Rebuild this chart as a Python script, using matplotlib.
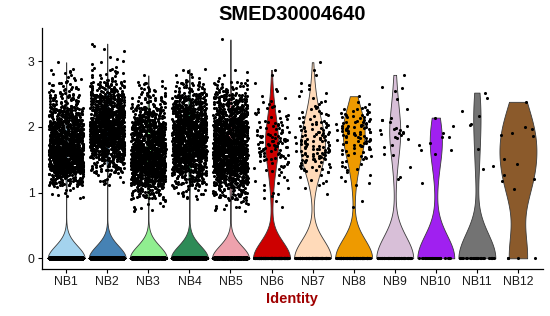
import numpy as np
import matplotlib
matplotlib.use('Agg')
import matplotlib.pyplot as plt

# clusters and violin colours
clusters = ['NB1', 'NB2', 'NB3', 'NB4', 'NB5', 'NB6',
            'NB7', 'NB8', 'NB9', 'NB10', 'NB11', 'NB12']
colors = ['#A4D3EE', '#4682B4', '#90EE90', '#2E8B57', '#EEA2AD', '#CD0000',
          '#FFDAB9', '#EE9A00', '#D8BFD8', '#A020F0', '#737373', '#8B5A2B']

# number of cells with zero expression per cluster
n_zero = [7800, 6200, 4200, 4500, 3900, 200, 130, 125, 70, 28, 30, 4]

# binned counts of non-zero expression (read off the point clouds)
bin_edges = [0.7, 0.9, 1.1, 1.3, 1.5, 1.7, 1.9, 2.1, 2.3, 2.5, 2.7, 2.9,
             3.1, 3.3, 3.5]
nb1_counts = [0, 10, 80, 260, 290, 210, 170, 115, 55, 25, 11, 1, 0, 0]
nb2_counts = [0, 0, 13, 52, 155, 260, 260, 195, 130, 62, 18, 6, 4, 0]
nb3_counts = [10, 52, 155, 260, 260, 195, 143, 78, 38, 18, 1, 0, 0, 0]
nb4_counts = [0, 19, 65, 143, 220, 235, 220, 143, 90, 36, 9, 0, 0, 0]
nb5_counts = [14, 52, 130, 235, 260, 235, 195, 130, 75, 30, 5, 0, 0, 0]
nb5_extra = [3.33]
nb6_counts = [2, 6, 6, 14, 25, 30, 20, 12, 6, 3, 2, 0, 0, 0]
nb7_counts = [0, 2, 6, 20, 35, 30, 22, 12, 6, 5, 2, 1, 0, 0]
nb8_counts = [2, 0, 5, 8, 15, 25, 30, 20, 3, 0, 0, 0, 0, 0]

# small clusters: individual non-zero values
nb9_values = [2.79, 2.60, 2.59, 2.55, 2.43, 2.27, 2.14, 2.11, 2.10, 2.08,
              2.01, 1.98, 1.96, 1.95, 1.95, 1.92, 1.90, 1.90, 1.89, 1.88,
              1.85, 1.83, 1.82, 1.72, 1.69, 1.58, 1.57, 1.39, 1.23, 1.20]
nb10_values = [2.14, 2.01, 1.90, 1.85, 1.84, 1.76, 1.72, 1.65, 1.64, 1.59,
               1.15]
nb11_values = [2.52, 2.44, 2.24, 2.17, 2.04, 2.02, 1.67, 1.41, 1.36]
nb12_values = [2.38, 1.99, 1.96, 1.90, 1.87, 1.86, 1.51, 1.43, 1.26, 1.20,
               1.18, 1.05]

FRAC2 = np.sqrt(2.0) % 1
GOLD = (np.sqrt(5.0) - 1) / 2


def expand_counts(counts):
    # spread each bin's cells over the bin evenly
    vals = []
    for lo, hi, c in zip(bin_edges[:-1], bin_edges[1:], counts):
        k = np.arange(1, c + 1)
        vals.append(lo + (k * FRAC2 % 1) * (hi - lo))
    return np.concatenate(vals)


nonzero = [expand_counts(c) for c in (nb1_counts, nb2_counts, nb3_counts,
                                      nb4_counts, nb5_counts, nb6_counts,
                                      nb7_counts, nb8_counts)]
nonzero[4] = np.concatenate([nonzero[4], nb5_extra])
nonzero += [np.array(v) for v in (nb9_values, nb10_values, nb11_values,
                                  nb12_values)]
data = [np.concatenate([np.zeros(z), v]) for z, v in zip(n_zero, nonzero)]


def bw_nrd0(x):
    hi = np.std(x, ddof=1)
    q1, q3 = np.percentile(x, [25, 75])
    lo = min(hi, (q3 - q1) / 1.34)
    if not lo:
        lo = hi or abs(x[0]) or 1.0
    return 0.9 * lo * len(x) ** -0.2


plt.rcParams['font.family'] = ['Liberation Sans', 'DejaVu Sans']
fig = plt.figure(figsize=(5.5, 3.16), dpi=100)
ax = fig.add_axes([0.0755, 0.148, 0.911, 0.762])

for i, (vals, col) in enumerate(zip(data, colors)):
    pos = i + 1
    h = max(bw_nrd0(vals), 0.19)
    grid = np.linspace(vals.min(), vals.max(), 512)
    dens = np.exp(-0.5 * ((grid[:, None] - vals[None, :]) / h) ** 2).sum(1)
    half = dens / dens.max() * 0.45
    ax.fill_betweenx(grid, pos - half, pos + half, facecolor=col,
                     edgecolor='#3a3a3a', linewidth=0.6, zorder=2)
    # deterministic jitter (quadratic Weyl sequence), +-0.4 like geom_jitter
    k = np.arange(len(vals), dtype=float) + 13 * i + 1
    xj = pos + (((k * k) * GOLD + k * FRAC2) % 1 - 0.5) * 0.84
    ax.scatter(xj, vals, s=5, c='black', linewidths=0, zorder=3)

ymax = max(v.max() for v in data)
pad = 0.05 * ymax
ax.set_ylim(-pad, ymax + pad)
ax.set_xlim(0.4, len(clusters) + 0.6)
ax.set_xticks(range(1, len(clusters) + 1))
ax.set_xticklabels(clusters)
ax.set_yticks([0, 1, 2, 3])
ax.tick_params(labelsize=8.8, length=3, width=0.8, colors='black',
               labelcolor='#1a1a1a', pad=2)
for side in ('top', 'right'):
    ax.spines[side].set_visible(False)
for side in ('left', 'bottom'):
    ax.spines[side].set_linewidth(0.9)

ax.set_xlabel('Identity', fontsize=10.5, fontweight='bold', color='#A00000',
              labelpad=3)
ax.set_title('SMED30004640', fontsize=14.5, fontweight='bold', pad=6)

fig.savefig('out.png', dpi=100)
